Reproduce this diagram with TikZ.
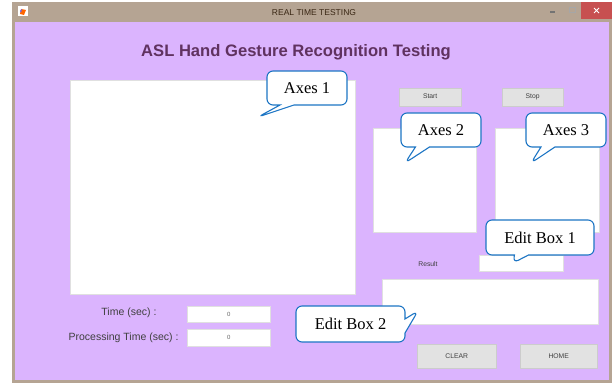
\documentclass[tikz,border=0pt]{standalone}
\usepackage{fontspec}
\setmainfont{Liberation Serif}
\setsansfont{Liberation Sans}
\usetikzlibrary{shapes.callouts}

\definecolor{winframe}{RGB}{181,164,147}
\definecolor{guibg}{RGB}{219,180,254}
\definecolor{closered}{RGB}{199,80,80}
\definecolor{headtxt}{RGB}{96,50,96}
\definecolor{callblue}{RGB}{28,117,196}
\definecolor{btngray}{RGB}{226,226,226}

\begin{document}
\begin{tikzpicture}[x=1pt, y=-1pt,
	panel/.style={fill=white, draw=black!12, inner sep=0pt, anchor=north west},
	button/.style={fill=btngray, draw=black!20, inner sep=0pt, anchor=north west,
		font=\sffamily\fontsize{6.8}{7}\selectfont, text=black!75,
		text height=5pt, text depth=1.4pt},
	label/.style={font=\sffamily\fontsize{10.5}{11}\selectfont, text=black!75, anchor=east},
	bubble/.style={rectangle callout, draw=callblue, line width=1.1pt, fill=white,
		rounded corners=6pt, callout pointer width=14pt,
		font=\fontsize{16.5}{16}\selectfont, inner sep=0pt}
]
	\useasboundingbox (0,0) rectangle (616,385);

	% window
	\fill[winframe] (12,2) rectangle (612,383);
	\fill[guibg] (15,22) rectangle (609,380);
	\fill[closered] (581,2) rectangle (612,19);
	\draw[white, line width=0.8pt] (594,8) -- (599,13) (594,13) -- (599,8);
	\draw[black!55, line width=1.2pt] (550,12) -- (555,12);
	\draw[black!35, line width=0.6pt] (569,7) rectangle (575,12);
	\fill[white] (18,6) rectangle (28,16);
	\fill[orange!80!red] (21,9) -- (26,10) -- (24,15) -- (20,14) -- cycle;
	\fill[blue!60] (20,11) -- (22,9) -- (21,13) -- cycle;
	\node[font=\sffamily\fontsize{8.5}{9}\selectfont, text=black!70!brown] (title) at (314,13) {REAL TIME TESTING};

	\node[font=\sffamily\bfseries\fontsize{16.6}{17}\selectfont, text=headtxt] (head) at (296,52)
		{ASL Hand Gesture Recognition Testing};

	% axes
	\node[panel, minimum width=285pt, minimum height=214pt] (axes1) at (70,80) {};
	\node[panel, minimum width=103pt, minimum height=104pt] (axes2) at (373,128) {};
	\node[panel, minimum width=104pt, minimum height=104pt] (axes3) at (495,128) {};

	% buttons
	\node[button, minimum width=62pt, minimum height=18pt] (start) at (399,88) {Start};
	\node[button, minimum width=61pt, minimum height=18pt] (stop) at (502,88) {Stop};
	\node[button, minimum width=79pt, minimum height=24pt] (clear) at (417,344) {CLEAR};
	\node[button, minimum width=77pt, minimum height=24pt] (home) at (520,344) {HOME};

	% edit boxes
	\node[font=\sffamily\fontsize{6.8}{7}\selectfont, text=black!75] (reslbl) at (428,264) {Result};
	\node[panel, minimum width=84pt, minimum height=16pt] (edit1) at (479,255) {};
	\node[panel, minimum width=216pt, minimum height=45pt] (edit2) at (382,279) {};

	\node[label] (tlbl) at (160,313) {Time (sec) :};
	\node[label] (plbl) at (182,338) {Processing Time (sec) :};
	\node[panel, minimum width=83pt, minimum height=16pt,
		font=\sffamily\fontsize{6}{6}\selectfont, text=black!60] (tbox) at (187,306) {0};
	\node[panel, minimum width=83pt, minimum height=17pt,
		font=\sffamily\fontsize{6}{6}\selectfont, text=black!60] (pbox) at (187,329) {0};

	% callouts
	\coordinate (tip1) at (258,117);
	\coordinate (tip2) at (405,163);
	\coordinate (tip3) at (531,163);
	\coordinate (tip4) at (513,263);
	\coordinate (tip5) at (418,311);
	\node[bubble, minimum width=80pt, minimum height=34pt, callout absolute pointer={(tip1)}] (call1) at (307,88) {Axes 1};
	\node[bubble, minimum width=80pt, minimum height=34pt, callout absolute pointer={(tip2)}] (call2) at (441,130) {Axes 2};
	\node[bubble, minimum width=80pt, minimum height=34pt, callout absolute pointer={(tip3)}] (call3) at (566,130) {Axes 3};
	\node[bubble, minimum width=108pt, minimum height=35pt, callout absolute pointer={(tip4)}] (call4) at (540,237.5) {Edit Box 1};
	\node[bubble, minimum width=109pt, minimum height=36pt, callout absolute pointer={(tip5)}] (call5) at (350.5,324) {Edit Box 2};
\end{tikzpicture}
\end{document}
